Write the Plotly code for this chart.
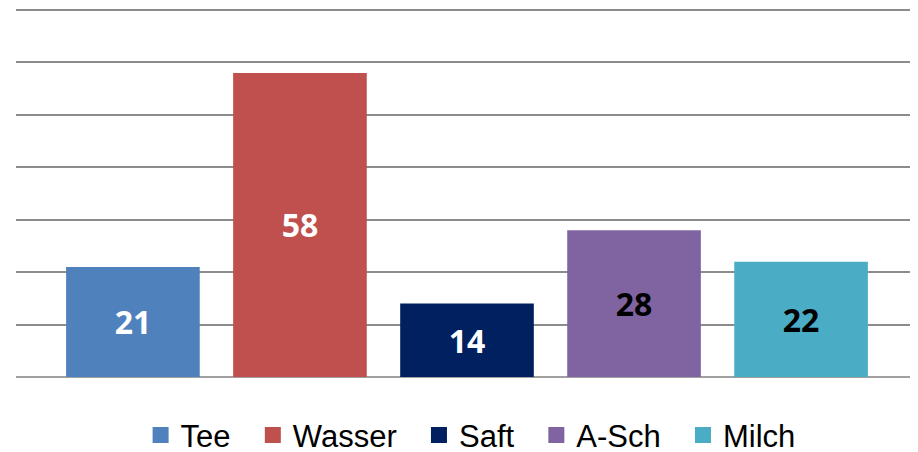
import plotly.graph_objects as go

categories = ["Tee", "Wasser", "Saft", "A-Sch", "Milch"]
values = [21, 58, 14, 28, 22]
colors = ["#4F81BD", "#C0504D", "#002060", "#8064A2", "#4BACC6"]
label_colors = ["white", "white", "white", "black", "black"]

NB = "\u00a0"
fig = go.Figure()
for i, (cat, val, col, lc) in enumerate(zip(categories, values, colors, label_colors)):
    fig.add_trace(go.Bar(
        x=[cat], y=[val], name=cat, marker=dict(color=col, line=dict(width=0)),
        width=0.8, text=[str(val)], textposition="inside", insidetextanchor="middle",
        textfont=dict(color=lc, size=32, family="Open Sans", weight="bold"),
        showlegend=False, legendgroup=cat,
    ))
    legend_name = cat + (NB * 2 if i < len(categories) - 1 else "")
    fig.add_trace(go.Scatter(
        x=[None], y=[None], mode="markers", name=legend_name, legendgroup=cat,
        marker=dict(symbol="square", size=22, color=col),
    ))

# page body has an 8px margin, so the figure is offset to compensate
fig.update_layout(
    width=910, height=452,
    margin=dict(l=8, r=0, t=0, b=82.5, autoexpand=False),
    plot_bgcolor="white", paper_bgcolor="white",
    barmode="overlay",
    font=dict(family="Liberation Sans", color="black"),
    xaxis=dict(categoryorder="array", categoryarray=categories, range=[-0.7, 4.7],
               showticklabels=False, showgrid=False, zeroline=False, showline=False, ticks="",
               automargin=False),
    yaxis=dict(range=[0, 70.38], dtick=10, showticklabels=False, showgrid=True,
               gridcolor="#8c8c8c", gridwidth=2, zeroline=True, zerolinecolor="#a0a0a0",
               zerolinewidth=2, showline=False, ticks="", automargin=False),
    showlegend=True,
    legend=dict(orientation="h", x=0.504, xanchor="center", y=-0.158, yanchor="middle",
                font=dict(size=31, family="Liberation Sans", color="black"),
                itemsizing="trace", bgcolor="rgba(0,0,0,0)", tracegroupgap=0),
)
fig.write_html("out.html")
